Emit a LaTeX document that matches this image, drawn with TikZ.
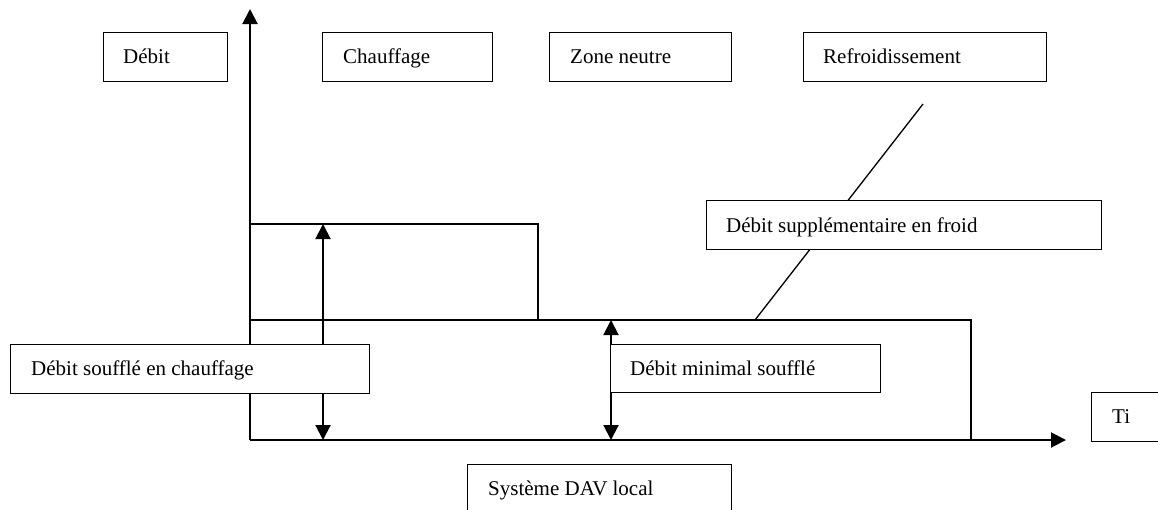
\documentclass[tikz,border=0pt]{standalone}
\usepackage{fontspec}
\setmainfont{Liberation Serif}
\usetikzlibrary{arrows.meta,calc}
\begin{document}
\begin{tikzpicture}[x=1pt,y=-1pt,
  box/.style={draw, line width=1.3pt, fill=white, inner sep=0pt, anchor=north west},
  lbl/.style={anchor=base west, inner sep=0pt, font=\fontsize{21}{25}\selectfont},
  axisline/.style={line width=2pt, -{Triangle[length=15pt,width=15pt]}},
  dblarrow/.style={line width=2pt, {Triangle[length=15pt,width=15pt]}-{Triangle[length=15pt,width=15pt]}},
  plain/.style={line width=1.3pt}]
\useasboundingbox (0,0) rectangle (1158,509);
% axes
\coordinate (O) at (250,440);
\coordinate (ytop) at (250,9);
\coordinate (xend) at (1066,440);
\draw[axisline] (O) -- (ytop);
\draw[axisline] (O) -- (xend);
% heating rectangle
\coordinate (h1) at (250,224);
\coordinate (h2) at (538,224);
\coordinate (h3) at (538,320);
\draw[plain] (h1) -- (h2) -- (h3);
% main rectangle
\coordinate (m1) at (250,320);
\coordinate (m2) at (971,320);
\coordinate (m3) at (971,440);
\draw[plain] (m1) -- (m2) -- (m3);
% double arrows
\coordinate (a1) at (323,224);
\coordinate (a2) at (323,440);
\draw[dblarrow] (a1) -- (a2);
\coordinate (b1) at (611,320);
\coordinate (b2) at (611,440);
\draw[dblarrow] (b1) -- (b2);
% diagonal
\coordinate (d1) at (755,320);
\coordinate (d2) at (923,104);
\draw[plain] (d1) -- (d2);
% boxes
\node[box, minimum width=124pt, minimum height=49pt] (debit) at (103,32) {};
\node[box, minimum width=170pt, minimum height=49pt] (chauf) at (322,32) {};
\node[box, minimum width=182pt, minimum height=49pt] (zone) at (549,32) {};
\node[box, minimum width=243pt, minimum height=49pt] (refr) at (803,32) {};
\node[box, minimum width=395pt, minimum height=49pt] (supp) at (706,200) {};
\node[box, minimum width=359pt, minimum height=49pt] (dsc) at (10,344) {};
\node[box, minimum width=270pt, minimum height=48pt] (dmin) at (610,344) {};
\node[box, minimum width=80pt, minimum height=49pt] (ti) at (1091,392) {};
\node[box, minimum width=264pt, minimum height=50pt] (sys) at (467,464) {};
% labels
\node[lbl] (tdebit) at ($(debit.north west)+(20,31)$) {Débit};
\node[lbl] (tchauf) at ($(chauf.north west)+(21,31)$) {Chauffage};
\node[lbl] (tzone) at ($(zone.north west)+(21,31)$) {Zone neutre};
\node[lbl] (trefr) at ($(refr.north west)+(20,31)$) {Refroidissement};
\node[lbl] (tsupp) at ($(supp.north west)+(20,32)$) {Débit supplémentaire en froid};
\node[lbl] (tdsc) at ($(dsc.north west)+(21,31)$) {Débit soufflé en chauffage};
\node[lbl] (tdmin) at ($(dmin.north west)+(20,31)$) {Débit minimal soufflé};
\node[lbl] (tti) at ($(ti.north west)+(21,31)$) {Ti};
\node[lbl] (tsys) at ($(sys.north west)+(21,31)$) {Système DAV local};
\end{tikzpicture}
\end{document}
